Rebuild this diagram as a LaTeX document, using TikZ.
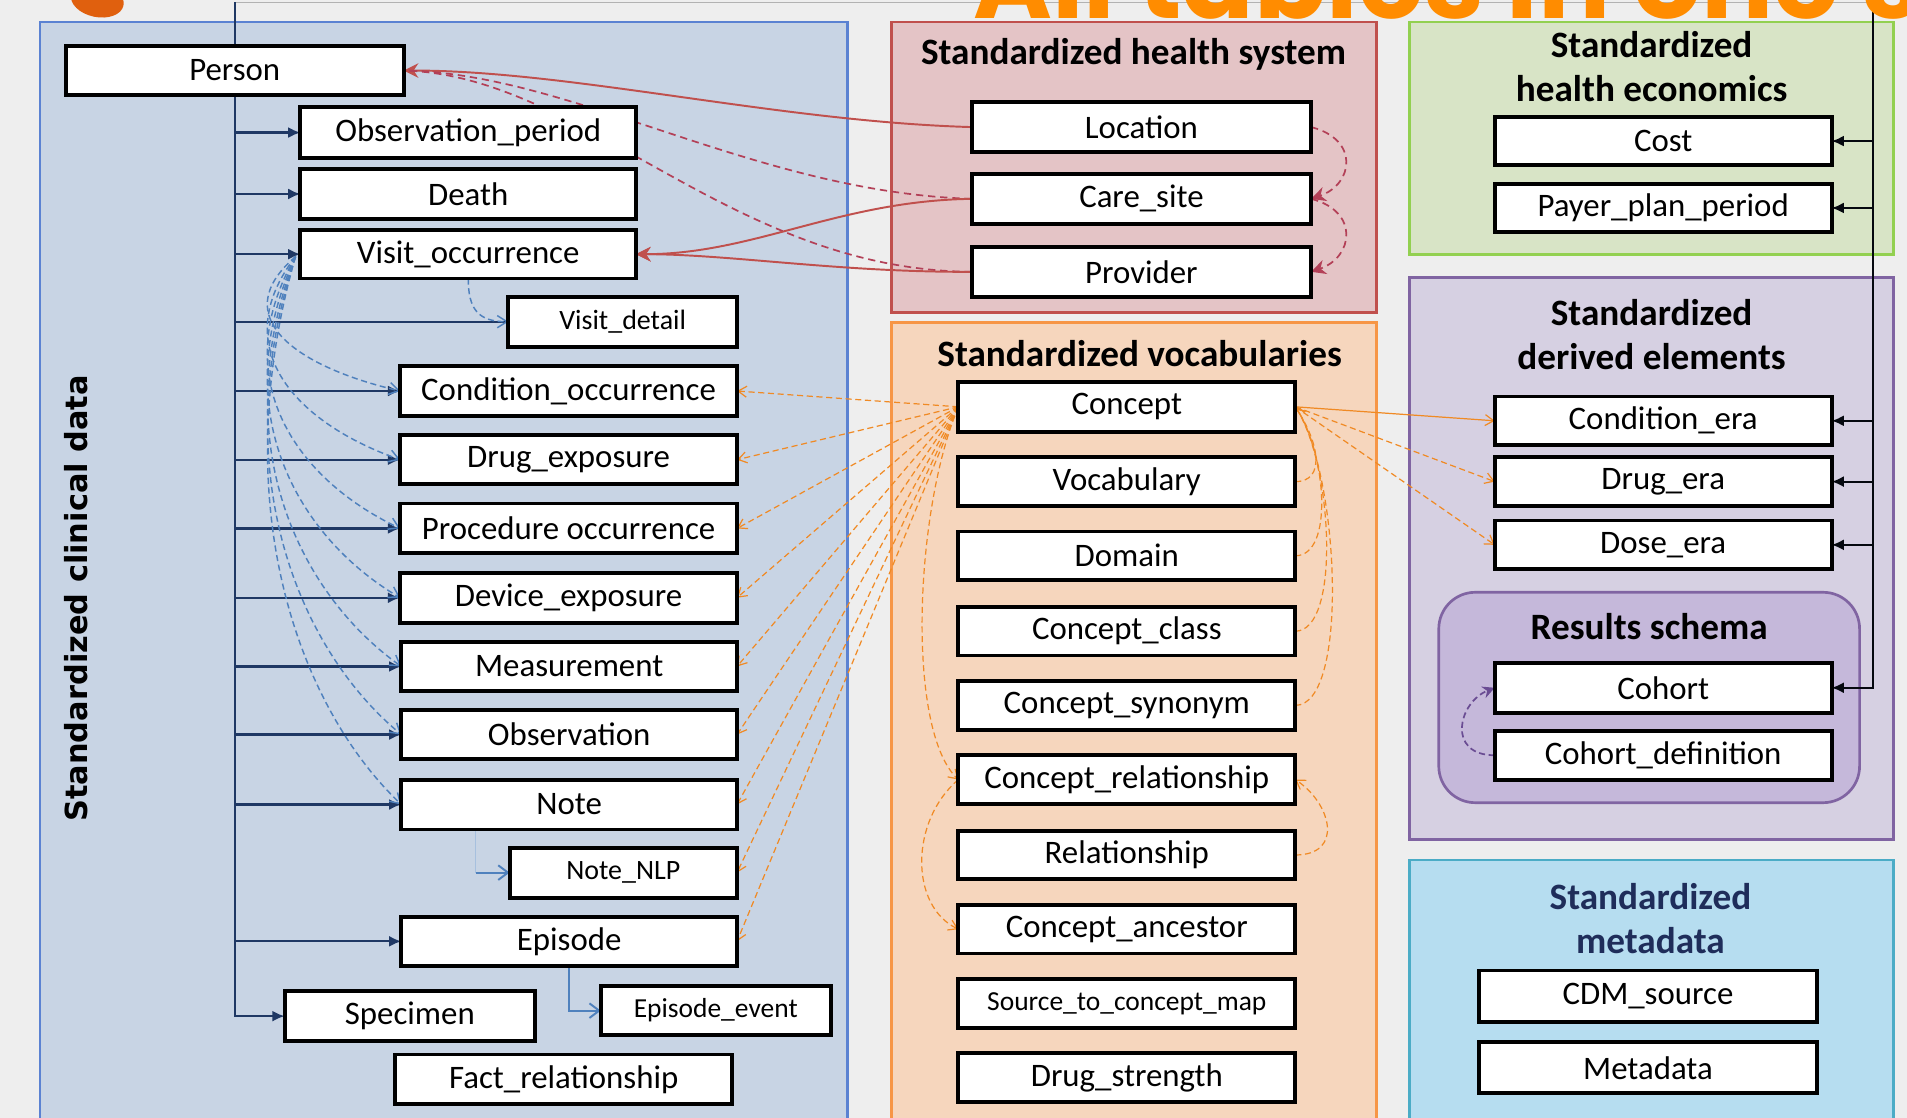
\documentclass[tikz,border=0pt]{standalone}
\usepackage{fontspec}
\setmainfont{Carlito}
\newfontfamily\sidefont{DejaVu Sans}
\newfontfamily\titlefont{Poppins}
\usetikzlibrary{arrows.meta,calc}

\definecolor{pagebg}{HTML}{EEEEEE}
\definecolor{navy}{HTML}{1F3864}
\definecolor{linkblue}{HTML}{4F81BD}
\definecolor{linkred}{HTML}{C0504D}
\definecolor{linkorange}{HTML}{F08A24}
\definecolor{linkpurple}{HTML}{6A4C93}
\definecolor{titleorange}{HTML}{FF8C00}
\definecolor{blobcolor}{HTML}{E0600E}
\definecolor{clinfill}{HTML}{C8D4E4}
\definecolor{clindraw}{HTML}{5B82D2}
\definecolor{hsysfill}{HTML}{E4C4C6}
\definecolor{hsysdraw}{HTML}{C0504D}
\definecolor{econfill}{HTML}{D8E4C6}
\definecolor{econdraw}{HTML}{92D050}
\definecolor{vocfill}{HTML}{F6D6BD}
\definecolor{vocdraw}{HTML}{F79646}
\definecolor{derfill}{HTML}{D6D0E2}
\definecolor{derdraw}{HTML}{8064A2}
\definecolor{resfill}{HTML}{C5B8DA}
\definecolor{metafill}{HTML}{B6DDF0}
\definecolor{metadraw}{HTML}{4BACC6}
\definecolor{metatext}{HTML}{1F2D5A}

\pgfdeclarelayer{panels}
\pgfdeclarelayer{links}
\pgfsetlayers{panels,links,main}

\tikzset{
  tablebox/.style={draw=black, fill=white, line width=1.6pt, inner sep=0pt, outer sep=0pt, text=black},
  panelbox/.style={line width=1.1pt, inner sep=0pt, outer sep=0pt},
  header/.style={font=\bfseries\fontsize{15.3}{18}\selectfont, align=center, inner sep=0pt, text=black},
  trunkline/.style={draw=navy, line width=0.9pt},
  navytip/.style={-{Latex[length=5pt,width=4.5pt]}},
  bluedash/.style={draw=linkblue, line width=0.6pt, dash pattern=on 2.5pt off 1.5pt, -{Straight Barb[length=4pt,width=5pt]}},
  blueline/.style={draw=linkblue, line width=0.8pt, -{Straight Barb[length=4pt,width=6pt]}},
  redline/.style={draw=linkred, line width=0.8pt},
  reddash/.style={draw=linkred!80!violet, line width=0.7pt, dash pattern=on 3pt off 2pt},
  redtip/.style={-{Stealth[length=6pt,width=6pt]}},
  orangedash/.style={draw=linkorange, line width=0.5pt, dash pattern=on 2.5pt off 1.5pt, -{Straight Barb[length=3.5pt,width=4.5pt]}},
  purpledash/.style={draw=linkpurple, line width=0.7pt, dash pattern=on 2.5pt off 1.5pt, -{Stealth[length=5pt,width=5pt]}}
}

% table box: name, x1, y1, x2, y2, font size, label
\newcommand\tabbox[7]{%
  \node[tablebox, font=\fontsize{#6}{#6}\selectfont,
        minimum width={(#4-#2)*0.5pt}, minimum height={(#5-#3)*0.5pt}]
        (#1) at ({(#2+#4)/2},{(#3+#5)/2}) {#7};}
% group panel: name, x1, y1, x2, y2, fill, border
\newcommand\grouppanel[7]{%
  \node[panelbox, fill=#6, draw=#7,
        minimum width={(#4-#2)*0.5pt}, minimum height={(#5-#3)*0.5pt}]
        (#1) at ({(#2+#4)/2},{(#3+#5)/2}) {};}

\begin{document}
\begin{tikzpicture}[x=0.5pt,y=-0.5pt]
\useasboundingbox (0,0) rectangle (1568,919);

% ---------- group panels ----------
\begin{pgfonlayer}{panels}
  \fill[pagebg] (0,0) rectangle (1568,919);
  \grouppanel{clinical}{33}{18}{697}{930}{clinfill}{clindraw}
  \grouppanel{hsys}{733}{18}{1132}{257}{hsysfill}{hsysdraw}
  \grouppanel{vocab}{733}{265}{1132}{930}{vocfill}{vocdraw}
  \grouppanel{econ}{1159}{18}{1557}{209}{econfill}{econdraw}
  \grouppanel{derived}{1159}{228}{1557}{690}{derfill}{derdraw}
  \grouppanel{meta}{1159}{707}{1557}{930}{metafill}{metadraw}
  \node[panelbox, fill=resfill, draw=derdraw, rounded corners=15pt,
        minimum width=173pt, minimum height=86.5pt] (results) at (1356,573.5) {};
\end{pgfonlayer}

% ---------- headers ----------
\node[rotate=90, inner sep=0pt, font=\sidefont\bfseries\fontsize{12.5}{12.5}\selectfont] (clinT) at (63,492) {Standardized clinical data};
\node[header] (hsysT) at (932,45) {Standardized health system};
\node[header] (econT) at (1358,55) {Standardized\\health economics};
\node[header] (vocT) at (937,291) {Standardized vocabularies};
\node[header] (derT) at (1358,275) {Standardized\\derived elements};
\node[header] (resT) at (1356,515) {Results schema};
\node[header, text=metatext] (metaT) at (1357,755) {Standardized\\metadata};

% ---------- clinical tables ----------
\tabbox{person}{54}{38}{332}{78}{13.5}{Person}
\tabbox{obsp}{247}{88}{523}{130}{13.5}{Observation\_period}
\tabbox{death}{247}{139}{523}{180}{13.5}{Death}
\tabbox{visit}{247}{189}{523}{229}{13.5}{Visit\_occurrence}
\tabbox{vdetail}{418}{244}{606}{285}{11.5}{Visit\_detail}
\tabbox{cond}{329}{301}{606}{342}{13.5}{Condition\_occurrence}
\tabbox{drug}{329}{358}{606}{398}{13.5}{Drug\_exposure}
\tabbox{proc}{329}{414}{606}{455}{13.5}{Procedure occurrence}
\tabbox{device}{329}{471}{606}{512}{13.5}{Device\_exposure}
\tabbox{meas}{330}{528}{606}{568}{13.5}{Measurement}
\tabbox{obs}{330}{584}{606}{624}{13.5}{Observation}
\tabbox{note}{330}{641}{606}{682}{13.5}{Note}
\tabbox{notenlp}{419}{697}{606}{738}{11.5}{Note\_NLP}
\tabbox{episode}{330}{754}{606}{794}{13.5}{Episode}
\tabbox{epevent}{494}{811}{683}{851}{11.3}{Episode\_event}
\tabbox{specimen}{234}{815}{440}{856}{13.5}{Specimen}
\tabbox{factrel}{325}{867}{602}{908}{13.5}{Fact\_relationship}

% ---------- health system tables ----------
\tabbox{location}{799}{84}{1078}{125}{13.5}{Location}
\tabbox{caresite}{799}{143}{1078}{184}{13.5}{Care\_site}
\tabbox{provider}{799}{203}{1078}{244}{13.5}{Provider}

% ---------- health economics tables ----------
\tabbox{cost}{1229}{96}{1506}{136}{13.5}{Cost}
\tabbox{payer}{1229}{151}{1506}{191}{13.5}{Payer\_plan\_period}

% ---------- vocabulary tables ----------
\tabbox{concept}{788}{314}{1065}{355}{13.5}{Concept}
\tabbox{vocabt}{788}{376}{1065}{416}{13.5}{Vocabulary}
\tabbox{domain}{788}{437}{1065}{477}{13.5}{Domain}
\tabbox{cclass}{788}{499}{1065}{539}{13.5}{Concept\_class}
\tabbox{csyn}{788}{560}{1065}{600}{13.5}{Concept\_synonym}
\tabbox{crel}{788}{621}{1065}{661}{13.5}{Concept\_relationship}
\tabbox{rel}{788}{683}{1065}{723}{13.5}{Relationship}
\tabbox{canc}{788}{744}{1065}{784}{13.5}{Concept\_ancestor}
\tabbox{s2c}{788}{805}{1065}{845}{11.3}{Source\_to\_concept\_map}
\tabbox{dstr}{788}{866}{1065}{906}{13.5}{Drug\_strength}

% ---------- derived tables ----------
\tabbox{condera}{1229}{326}{1506}{366}{13.5}{Condition\_era}
\tabbox{drugera}{1229}{376}{1506}{416}{13.5}{Drug\_era}
\tabbox{doseera}{1229}{428}{1506}{468}{13.5}{Dose\_era}
\tabbox{cohort}{1229}{545}{1506}{586}{13.5}{Cohort}
\tabbox{cohortdef}{1229}{601}{1506}{641}{13.5}{Cohort\_definition}

% ---------- metadata tables ----------
\tabbox{cdmsrc}{1216}{798}{1494}{840}{13.5}{CDM\_source}
\tabbox{metadata}{1216}{857}{1494}{899}{13.5}{Metadata}

% ---------- connectors ----------
\coordinate (ltop) at (193,2);
\coordinate (rtop) at (1540,2);
\coordinate (vstart) at (243,211);

\begin{pgfonlayer}{links}
  % person key trunk across the top
  \draw[draw=gray!60, line width=0.6pt] (ltop) -- (rtop);
  \draw[trunkline, navytip] (ltop) -- (ltop |- specimen.west) -- (specimen.west);
  \foreach \t in {obsp,death,visit,cond,drug,proc,device,meas,obs,note,episode}
    \draw[trunkline, navytip] (ltop |- \t.west) -- (\t.west);
  \draw[trunkline, line width=0.7pt] (ltop |- vdetail.west) -- (vdetail.west);
  \draw[trunkline, draw=black!85!navy, navytip] (rtop) -- (rtop |- cohort.east) -- (cohort.east);
  \foreach \t in {cost,payer,condera,drugera,doseera}
    \draw[trunkline, draw=black!85!navy, navytip] (rtop |- \t.east) -- (\t.east);

  % visit occurrence to event tables
  \draw[bluedash] (visit.south) .. controls +(0,25) and +(-25,0) .. (vdetail.west);
  \foreach \t/\d in {cond/110,drug/167,proc/223,device/280,meas/337,obs/392,note/450}
    \draw[bluedash] (vstart) .. controls +(-58,{0.45*\d}) and +(-85,{-0.18*\d}) .. (\t.west);
  \draw[draw=linkblue!50, line width=0.6pt] ($(note.south west)+(61,0)$) |- ($(notenlp.west)+(-25,0)$);
  \draw[blueline] ($(notenlp.west)+(-28,0)$) -- (notenlp.west);
  \draw[blueline] (episode.south) |- (epevent.west);

  % health system to person and visit
  \draw[redline, redtip] (location.west) .. controls (640,100) and (470,58) .. (person.east);
  \draw[reddash] (caresite.west) .. controls (620,158) and (470,60) .. (person.east);
  \draw[reddash] (provider.west) .. controls (600,222) and (480,62) .. (person.east);
  \draw[redline, redtip] (caresite.west) .. controls (690,165) and (620,209) .. (visit.east);
  \draw[redline, redtip] (provider.west) .. controls (690,224) and (600,209) .. (visit.east);
  \draw[reddash, redtip] (location.east) .. controls +(40,10) and +(35,-12) .. (caresite.east);
  \draw[reddash, redtip] (caresite.east) .. controls +(40,10) and +(35,-12) .. (provider.east);

  % concept to clinical event tables
  \foreach \t in {cond,drug,proc,device,meas,obs,note,notenlp,episode}
    \draw[orangedash] (concept.west) -- (\t.east);
  \draw[orangedash] (concept.west) .. controls (752,420) and (745,600) .. (crel.west);
  \draw[orangedash] (crel.west) .. controls (748,675) and (748,745) .. (canc.west);

  % vocabulary tables back to concept
  \foreach \t/\b in {vocabt/25,domain/32,cclass/38,csyn/45}
    \draw[orangedash] (\t.east) .. controls +(\b,0) and +({0.8*\b},{1.2*\b}) .. (concept.east);
  \draw[orangedash] (rel.east) .. controls +(40,0) and +(30,20) .. (crel.east);

  % concept to derived eras
  \draw[orangedash, solid] (concept.east) -- (condera.west);
  \draw[orangedash] (concept.east) -- (drugera.west);
  \draw[orangedash] (concept.east) -- (doseera.west);

  % cohort definition to cohort
  \draw[purpledash] (cohortdef.west) .. controls +(-40,0) and +(-30,12) .. (cohort.west);
\end{pgfonlayer}

% ---------- heading lettering along the top edge ----------
\begin{scope}
  \clip (0,0) rectangle (1568,919);
  \node[anchor=base west, inner sep=0pt, text depth=0pt, text=titleorange,
        font=\titlefont\bfseries\fontsize{44}{44}\selectfont] (title) at (800,15) {All tables in one s};
  \fill[blobcolor, rotate around={-12:(80,0)}] (80,0) ellipse [x radius=11pt, y radius=7pt];
\end{scope}
\end{tikzpicture}
\end{document}
